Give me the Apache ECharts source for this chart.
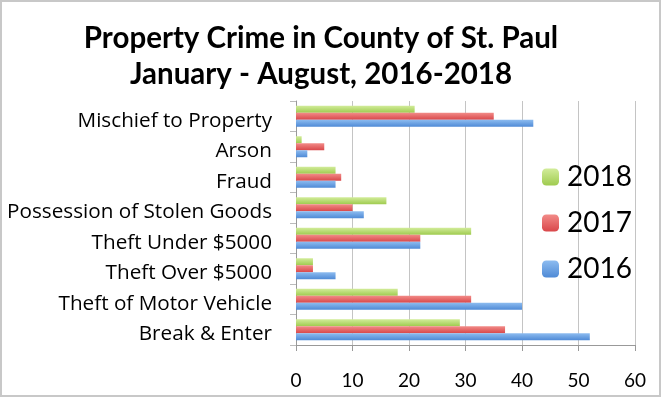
<!DOCTYPE html>
<html>
<head>
<meta charset="utf-8">
<script src="https://cdn.jsdelivr.net/npm/echarts@6/dist/echarts.min.js"></script>
<style>
  html, body { margin: 0; padding: 0; background: #fff; }
  #chart { width: 661px; height: 397px; }
</style>
</head>
<body>
<div id="chart"></div>
<script>
// Chart data
const categories = [
    'Break & Enter',
    'Theft of Motor Vehicle',
    'Theft Over $5000',
    'Theft Under $5000',
    'Possession of Stolen Goods',
    'Fraud',
    'Arson',
    'Mischief to Property'
];
const values2016 = [52, 40, 7, 22, 12, 7, 2, 42];
const values2017 = [37, 31, 3, 22, 10, 8, 5, 35];
const values2018 = [29, 18, 3, 31, 16, 7, 1, 21];
const legendOrder = ['2018', '2017', '2016'];

// Gradient fill like the old Excel bars
function barFill(top, bottom) {
    return new echarts.graphic.LinearGradient(0, 0, 0, 1, [
        { offset: 0, color: top },
        { offset: 1, color: bottom }
    ]);
}

const fontFamily = 'Lato, "Open Sans", sans-serif';

const myChart = echarts.init(document.getElementById('chart'));

const option = {
    animation: false,
    title: {
        text: 'Property Crime in County of St. Paul\nJanuary - August, 2016-2018',
        left: 316,
        top: 15,
        textAlign: 'center',
        textStyle: {
            fontFamily: fontFamily,
            fontWeight: 'bold',
            fontSize: 29.5,
            lineHeight: 36,
            color: '#000'
        }
    },
    graphic: [{
        type: 'rect',
        shape: { x: 1, y: 1, width: 659, height: 395 },
        style: { fill: 'none', stroke: '#c8c8c8', lineWidth: 2 },
        silent: true
    }],
    legend: {
        data: legendOrder,
        orient: 'vertical',
        left: 537,
        top: 158,
        itemWidth: 17,
        itemHeight: 17,
        itemGap: 18,
        textStyle: {
            fontFamily: fontFamily,
            fontSize: 28,
            color: '#000',
            padding: [0, 0, 0, 3]
        }
    },
    grid: {
        left: 296,
        right: 26,
        top: 101,
        bottom: 52,
        containLabel: false
    },
    xAxis: {
        type: 'value',
        min: 0,
        max: 60,
        interval: 10,
        axisLine: { show: true, lineStyle: { color: '#999' } },
        axisTick: { show: true, length: 6, lineStyle: { color: '#999' } },
        axisLabel: {
            fontFamily: fontFamily,
            fontSize: 19,
            color: '#000',
            margin: 26
        },
        splitLine: { show: true, lineStyle: { color: '#c4c4c4' } }
    },
    yAxis: {
        type: 'category',
        data: categories,
        axisLine: { show: true, lineStyle: { color: '#999' } },
        axisTick: { show: true, length: 6, lineStyle: { color: '#bbb' } },
        axisLabel: {
            margin: 24,
            formatter: function(value) {
                return '{c|' + value + '}';
            },
            rich: {
                c: {
                    fontFamily: '"Open Sans", Lato, sans-serif',
                    fontSize: 20.7,
                    color: '#000',
                    padding: [9, 0, 0, 0]
                }
            }
        }
    },
    series: [
        {
            name: '2018',
            type: 'bar',
            data: values2018,
            barWidth: 7,
            barGap: '0%',
            itemStyle: { color: barFill('#d2ec9a', '#9fcb4f') }
        },
        {
            name: '2017',
            type: 'bar',
            data: values2017,
            barWidth: 7,
            barGap: '0%',
            itemStyle: { color: barFill('#f28b88', '#d9474a') }
        },
        {
            name: '2016',
            type: 'bar',
            data: values2016,
            barWidth: 7,
            barGap: '0%',
            itemStyle: { color: barFill('#8dbcf0', '#4f8ad6') }
        }
    ]
};

myChart.setOption(option);
</script>
</body>
</html>
